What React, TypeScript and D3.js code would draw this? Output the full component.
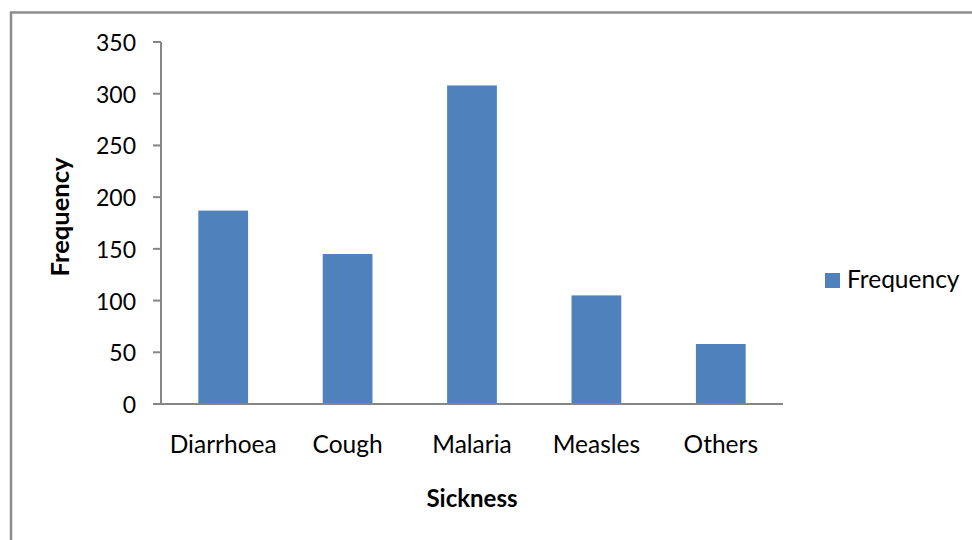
import React from "react";
import * as d3 from "d3";

const categories = ["Diarrhoea", "Cough", "Malaria", "Measles", "Others"];
const frequency = [187, 145, 308, 105, 58];
const yTicks = [0, 50, 100, 150, 200, 250, 300, 350];
const seriesName = "Frequency";
const xTitle = "Sickness";
const yTitle = "Frequency";

const W = 972;
const H = 540;
const FONT = "Lato, 'Open Sans', sans-serif";
const BAR = "#4f81bd";
const AXIS = "#868686";

export default function App() {
  const left = 161;
  const right = 783;
  const top = 42;
  const bottom = 404;

  const x = d3.scaleBand<string>().domain(categories).range([left, right]).paddingInner(0.6).paddingOuter(0.3);
  const y = d3.scaleLinear().domain([0, 350]).range([bottom, top]);

  return (
    <svg
      width={W}
      height={H}
      style={{ position: "absolute", left: 0, top: 0, background: "#fff" }}
      fontFamily={FONT}
    >
      <rect x={0} y={0} width={W} height={H} fill="#fff" />
      <rect x={11} y={12.5} width={1000} height={600} fill="none" stroke="#8e8e8e" strokeWidth={2.5} />

      {categories.map((c, i) => (
        <rect
          key={c}
          x={x(c)}
          y={y(frequency[i])}
          width={x.bandwidth()}
          height={y(0) - y(frequency[i])}
          fill={BAR}
        />
      ))}

      <line x1={left} x2={left} y1={top} y2={bottom} stroke={AXIS} strokeWidth={2} />
      <line x1={left - 8} x2={right} y1={bottom} y2={bottom} stroke={AXIS} strokeWidth={2} />
      {yTicks.map((t) => (
        <g key={t}>
          <line x1={left - 8} x2={left} y1={y(t)} y2={y(t)} stroke={AXIS} strokeWidth={2} />
          <text x={136} y={y(t)} textAnchor="end" dominantBaseline="central" fontSize={23} fill="#000">
            {t}
          </text>
        </g>
      ))}

      {categories.map((c) => (
        <text key={c} x={(x(c) as number) + x.bandwidth() / 2} y={453} textAnchor="middle" fontSize={24.5} fill="#000">
          {c}
        </text>
      ))}

      <text x={(left + right) / 2} y={507} textAnchor="middle" fontSize={24} fontWeight="bold" fill="#000">
        {xTitle}
      </text>
      <text
        transform={`translate(69, 217) rotate(-90)`}
        textAnchor="middle"
        fontSize={25.5}
        fontWeight="bold"
        fill="#000"
      >
        {yTitle}
      </text>

      <rect x={825} y={273} width={15} height={15} fill={BAR} />
      <text x={847} y={288} fontSize={24.5} fill="#000">
        {seriesName}
      </text>
    </svg>
  );
}
